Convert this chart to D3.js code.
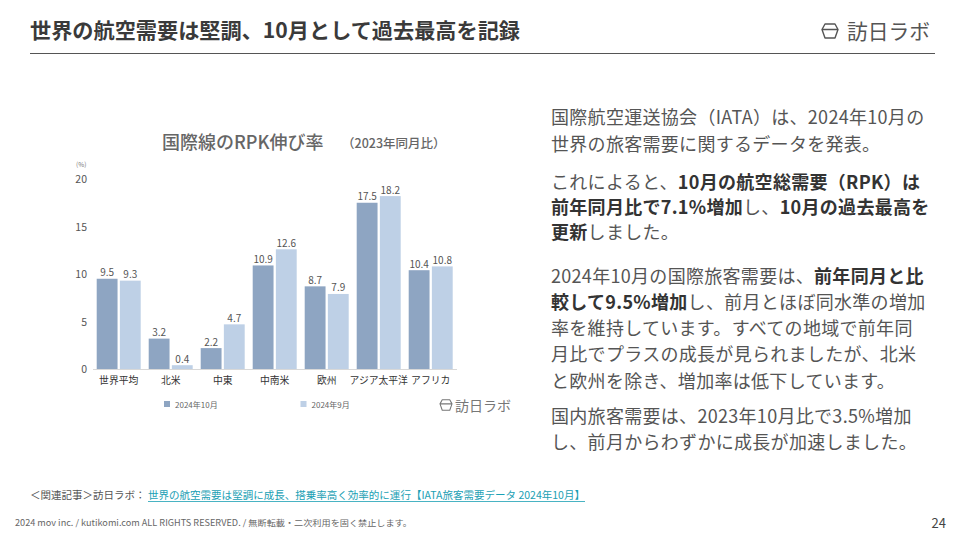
<!DOCTYPE html>
<html><head><meta charset="utf-8">
<script src="https://cdn.jsdelivr.net/npm/d3@7"></script>
<style>
html,body{margin:0;padding:0;background:#fff;}
svg{display:block;font-family:"Noto Sans CJK JP","Noto Sans",sans-serif;}
</style></head>
<body>
<svg id="c" width="960" height="540"></svg>
<script>
const categories = ["世界平均","北米","中東","中南米","欧州","アジア太平洋","アフリカ"];
const seriesNames = ["2024年10月","2024年9月"];
const oct2024 = [9.5, 3.2, 2.2, 10.9, 8.7, 17.5, 10.4];
const sep2024 = [9.3, 0.4, 4.7, 12.6, 7.9, 18.2, 10.8];
const yTicks = [0, 5, 10, 15, 20];
const colors = ["#8ea5c2", "#bed0e6"];

const svg = d3.select("#c");

// Header
svg.append("text").attr("x", 30).attr("y", 38).attr("font-size", 21).attr("font-weight", 700)
  .attr("fill", "#3a3a3a").attr("textLength", 490).attr("lengthAdjust", "spacingAndGlyphs")
  .text("世界の航空需要は堅調、10月として過去最高を記録");
svg.append("line").attr("x1", 30).attr("x2", 935).attr("y1", 53.5).attr("y2", 53.5)
  .attr("stroke", "#555").attr("stroke-width", 1.2);

function logo(g, x, y, s, col) {
  const p = `M${x-5*s},${y-7*s} L${x+5*s},${y-7*s} L${x+8*s},${y-1.5*s} L${x+5*s},${y+7*s} L${x-5*s},${y+7*s} L${x-8*s},${y-1.5*s} Z M${x-8*s},${y-1.5*s} L${x+8*s},${y-1.5*s}`;
  g.append("path").attr("d", p).attr("fill", "none").attr("stroke", col).attr("stroke-width", 1.4*s).attr("stroke-linejoin", "round");
}
logo(svg, 830, 31, 1, "#555");
svg.append("text").attr("x", 847).attr("y", 39).attr("font-size", 21).attr("fill", "#555")
  .attr("textLength", 83).attr("lengthAdjust", "spacingAndGlyphs").text("訪日ラボ");

// Chart
const x0 = d3.scaleBand().domain(categories).range([92.7, 456.7]).paddingInner(0.154).paddingOuter(0.077);
const x1 = d3.scaleBand().domain(seriesNames).range([0, x0.bandwidth()]).paddingInner(0.1);
const y = d3.scaleLinear().domain([0, 20]).range([369, 179]);

const chart = svg.append("g");
chart.append("text").attr("x", 162).attr("y", 149).attr("font-size", 18).attr("font-weight", 500)
  .attr("fill", "#666").text("国際線のRPK伸び率");
chart.append("text").attr("x", 342).attr("y", 148).attr("font-size", 12.5).attr("font-weight", 500)
  .attr("fill", "#666").text("（2023年同月比）");
chart.append("text").attr("x", 76).attr("y", 167).attr("font-size", 6.5).attr("fill", "#777").text("(%)");

chart.selectAll(".yt").data(yTicks).join("text")
  .attr("x", 87).attr("y", d => y(d) + 4).attr("text-anchor", "end")
  .attr("font-size", 10.5).attr("fill", "#555").text(d => d);

chart.append("line").attr("x1", 93).attr("x2", 457).attr("y1", 369.5).attr("y2", 369.5)
  .attr("stroke", "#d8d8d8").attr("stroke-width", 1);

const rows = categories.map((c, i) => ({c, vals: [oct2024[i], sep2024[i]]}));
const grp = chart.selectAll(".grp").data(rows).join("g").attr("transform", d => `translate(${x0(d.c)},0)`);
grp.selectAll("rect").data(d => d.vals.map((v, j) => ({s: seriesNames[j], v, j}))).join("rect")
  .attr("x", d => x1(d.s)).attr("width", x1.bandwidth())
  .attr("y", d => y(d.v)).attr("height", d => y(0) - y(d.v))
  .attr("fill", d => colors[d.j]);
grp.selectAll(".vl").data(d => d.vals.map((v, j) => ({s: seriesNames[j], v, j}))).join("text")
  .attr("x", d => x1(d.s) + x1.bandwidth() / 2).attr("y", d => y(d.v) - 2.5)
  .attr("text-anchor", "middle").attr("font-size", 10).attr("fill", "#555").text(d => d.v.toFixed(1));

chart.selectAll(".xl").data(categories).join("text")
  .attr("x", d => x0(d) + x0.bandwidth() / 2).attr("y", 384).attr("text-anchor", "middle")
  .attr("font-size", 9.8).attr("fill", "#333").text(d => d);

// Legend
const legX = [164, 300.5];
seriesNames.forEach((s, i) => {
  chart.append("rect").attr("x", legX[i]).attr("y", 401).attr("width", 6).attr("height", 6).attr("fill", colors[i]);
  chart.append("text").attr("x", legX[i] + 11).attr("y", 407.5).attr("font-size", 8).attr("fill", "#666").text(s);
});
logo(chart, 446, 405, 0.75, "#777");
chart.append("text").attr("x", 455).attr("y", 410.5).attr("font-size", 14).attr("fill", "#777").text("訪日ラボ");

// Right text
const paras = [
  [124, [["国際航空運送協会（IATA）は、2024年10月の", 0]]],
  [151, [["世界の旅客需要に関するデータを発表。", 0]]],
  [189, [["これによると、", 0], ["10月の航空総需要（RPK）は", 1]]],
  [214, [["前年同月比で7.1%増加", 1], ["し、", 0], ["10月の過去最高を", 1]]],
  [239, [["更新", 1], ["しました。", 0]]],
  [283, [["2024年10月の国際旅客需要は、", 0], ["前年同月と比", 1]]],
  [309, [["較して9.5%増加", 1], ["し、前月とほぼ同水準の増加", 0]]],
  [335, [["率を維持しています。すべての地域で前年同", 0]]],
  [361, [["月比でプラスの成長が見られましたが、北米", 0]]],
  [388, [["と欧州を除き、増加率は低下しています。", 0]]],
  [423, [["国内旅客需要は、2023年10月比で3.5%増加", 0]]],
  [449, [["し、前月からわずかに成長が加速しました。", 0]]]
];
paras.forEach(([yy, segs]) => {
  const t = svg.append("text").attr("x", 551).attr("y", yy).attr("font-size", 18)
    .attr("letter-spacing", 0.3).attr("fill", "#555");
  segs.forEach(([s, b]) => {
    t.append("tspan").attr("font-weight", b ? 700 : 400).attr("fill", b ? "#333" : "#555").text(s);
  });
});

// Footer
svg.append("text").attr("x", 30).attr("y", 499).attr("font-size", 10.5).attr("fill", "#555").text("＜関連記事＞訪日ラボ：");
svg.append("text").attr("x", 148).attr("y", 499).attr("font-size", 10.5).attr("fill", "#1aa0b4")
  .attr("textLength", 437).attr("lengthAdjust", "spacingAndGlyphs")
  .text("世界の航空需要は堅調に成長、搭乗率高く効率的に運行【IATA旅客需要データ 2024年10月】");
svg.append("line").attr("x1", 148).attr("x2", 585).attr("y1", 501.5).attr("y2", 501.5).attr("stroke", "#1aa0b4").attr("stroke-width", 0.8);
svg.append("text").attr("x", 15).attr("y", 526).attr("font-size", 8.5).attr("fill", "#666")
  .attr("textLength", 397).attr("lengthAdjust", "spacingAndGlyphs")
  .text("2024 mov inc. / kutikomi.com ALL RIGHTS RESERVED. / 無断転載・二次利用を固く禁止します。");
svg.append("text").attr("x", 946).attr("y", 528).attr("text-anchor", "end").attr("font-size", 13).attr("fill", "#444").text("24");
</script>
</body></html>
